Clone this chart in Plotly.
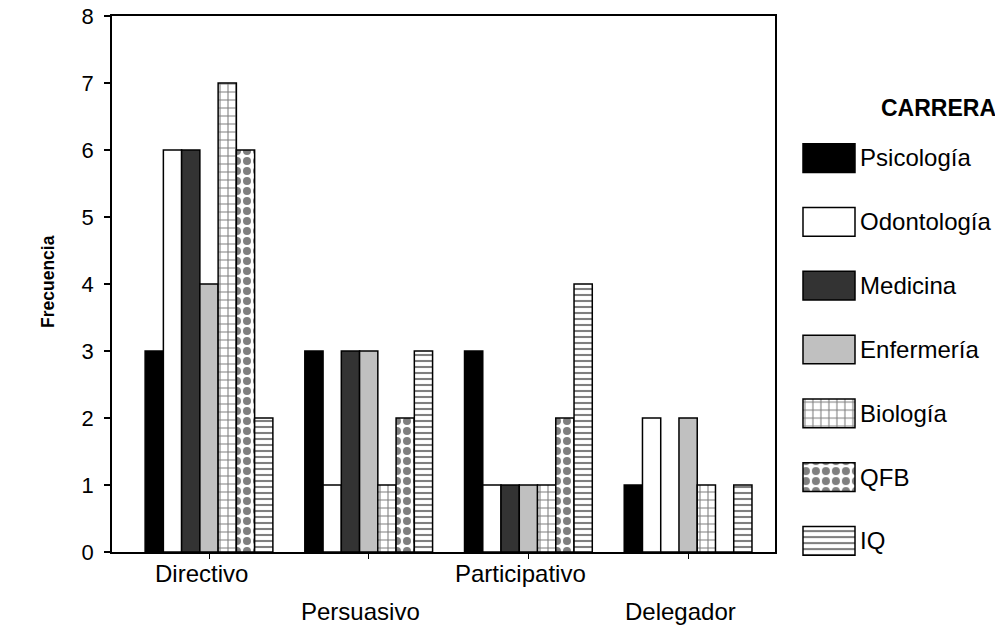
import plotly.graph_objects as go

categories = ["Directivo", "Persuasivo", "Participativo", "Delegador"]
carreras = ["Psicología", "Odontología", "Medicina", "Enfermería", "Biología", "QFB", "IQ"]
psicologia = [3, 3, 3, 1]
odontologia = [6, 1, 1, 2]
medicina = [6, 3, 1, 0]
enfermeria = [4, 3, 1, 2]
biologia = [7, 1, 1, 1]
qfb = [6, 2, 2, 0]
iq = [2, 3, 4, 1]
values = [psicologia, odontologia, medicina, enfermeria, biologia, qfb, iq]
y_ticks = [0, 1, 2, 3, 4, 5, 6, 7, 8]

styles = [
    dict(color="#000000"),
    dict(color="#ffffff"),
    dict(color="#333333"),
    dict(color="#c0c0c0"),
    dict(color="#ffffff", pattern=dict(shape="+", fgcolor="#000000", bgcolor="#ffffff", size=8, solidity=0.25, fillmode="overlay")),
    dict(color="#ffffff", pattern=dict(shape=".", fgcolor="#000000", bgcolor="#ffffff", size=10, solidity=0.5, fillmode="overlay")),
    dict(color="#ffffff", pattern=dict(shape="-", fgcolor="#000000", bgcolor="#ffffff", size=6, solidity=0.35, fillmode="overlay")),
]

FONT = "Liberation Sans, Arial, sans-serif"
FS = 24
# page body has an 8px margin; work in reference-picture pixels
OFF = 8
W, H = 1003 - OFF, 626 - OFF


def px(x):
    return (x - OFF) / W


def py(y):
    return 1 - (y - OFF) / H


fig = go.Figure()
xpos = list(range(len(categories)))
for name, vals, st in zip(carreras, values, styles):
    fig.add_trace(go.Bar(
        x=xpos, y=vals, name=name, showlegend=False,
        marker=dict(line=dict(color="#000000", width=1.5), **st),
        xaxis="x", yaxis="y",
    ))

# legend swatches as a small bar subplot
for i, (name, st) in enumerate(zip(carreras, styles)):
    fig.add_trace(go.Bar(
        x=[1], y=[i], orientation="h", width=0.45, showlegend=False,
        marker=dict(line=dict(color="#000000", width=1.5), **st),
        xaxis="x2", yaxis="y2", hoverinfo="skip",
    ))

x0 = 209.0
step = 159.7
fig.update_layout(
    width=W, height=H,
    margin=dict(l=0, r=0, t=0, b=0),
    paper_bgcolor="white", plot_bgcolor="white",
    font=dict(family=FONT, size=FS, color="#000000"),
    barmode="group", bargap=0.2, bargroupgap=0.0,
    xaxis=dict(
        domain=[px(112), px(775)],
        range=[(112 - x0) / step, (775 - x0) / step],
        tickvals=xpos, ticktext=["" for _ in categories],
        ticks="outside", ticklen=5, tickwidth=1.2, tickcolor="#000",
        showline=True, linecolor="#000", linewidth=1.5, mirror=True,
        showgrid=False, zeroline=False, automargin=False,
    ),
    yaxis=dict(
        domain=[py(552), py(16)],
        range=[0, 8], tickvals=y_ticks,
        ticks="outside", ticklen=6, tickwidth=1.5, tickcolor="#000",
        showline=True, linecolor="#000", linewidth=1.5, mirror=True,
        showgrid=False, zeroline=False, automargin=False,
        tickfont=dict(size=22), ticklabelstandoff=6,
        ticklabeloverflow="allow",
    ),
    xaxis2=dict(
        domain=[px(803 - 2.08), px(855 + 2.08)], range=[-0.04, 1.04],
        anchor="y2", showline=False, showgrid=False, zeroline=False,
        showticklabels=False, ticks="", automargin=False,
    ),
    yaxis2=dict(
        domain=[py(572.9), py(126.1)], range=[6.5, -0.5],
        anchor="x2", side="right", tickvals=list(range(len(carreras))),
        ticktext=carreras, ticks="", showline=False, showgrid=False,
        zeroline=False, tickfont=dict(size=FS), automargin=False,
        ticklabelstandoff=2, ticklabeloverflow="allow",
    ),
)

row_y = [573, 611, 573, 611]
for i, (cat, yy) in enumerate(zip(categories, row_y)):
    fig.add_annotation(
        x=i, xref="x", y=py(yy), yref="paper",
        text=cat, showarrow=False, xanchor="center", yanchor="middle",
        xshift=-8, font=dict(size=FS),
    )

fig.add_annotation(
    x=px(998), xref="paper", y=py(108), yref="paper",
    text="<b>CARRERA</b>", showarrow=False, xanchor="right", yanchor="middle",
    font=dict(size=23),
)

fig.add_annotation(
    x=px(48), xref="paper", y=py(282), yref="paper",
    text="<b>Frecuencia</b>", showarrow=False, textangle=-90,
    xanchor="center", yanchor="middle", font=dict(size=17.5),
)

fig.write_html("out.html")
